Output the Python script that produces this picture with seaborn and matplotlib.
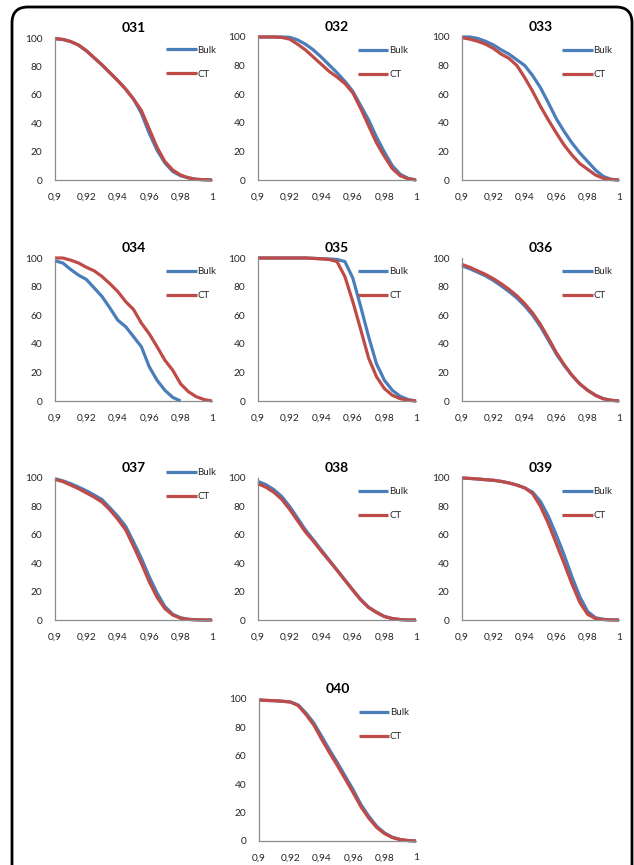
import numpy as np
import pandas as pd
import matplotlib
matplotlib.use("Agg")
import matplotlib.pyplot as plt
from matplotlib.patches import FancyBboxPatch
from matplotlib.transforms import IdentityTransform
import seaborn as sns

# ---------------- data ----------------
X = [0.900, 0.905, 0.910, 0.915, 0.920, 0.925, 0.930, 0.935, 0.940, 0.945, 0.950,
     0.955, 0.960, 0.965, 0.970, 0.975, 0.980, 0.985, 0.990, 0.995, 1.000]
XTICKS = [0.90, 0.92, 0.94, 0.96, 0.98, 1.00]
XTICK_LABELS = ["0,9", "0,92", "0,94", "0,96", "0,98", "1"]
YTICKS = [0, 20, 40, 60, 80, 100]
SERIES = ["Bulk", "CT"]
PANELS = ["031", "032", "033", "034", "035", "036", "037", "038", "039", "040"]

B031 = [99.5, 99, 97.5, 95, 91, 86, 81, 75.5, 70, 64, 57, 47, 33, 21, 12, 6, 3, 1.5, 0.5, 0.2, 0]
C031 = [99.5, 99, 97.5, 95, 91, 86, 81, 75.5, 70, 64, 57, 49, 36, 23, 13, 7, 3.5, 1.5, 0.5, 0.2, 0]
B032 = [100, 100, 100, 100, 99.8, 98, 95, 91, 86, 80.5, 75, 69, 62, 52, 42, 30, 19.5, 10, 4, 1.2, 0]
C032 = [100, 100, 100, 99.7, 98.5, 95, 91, 86, 81, 76, 72, 67.5, 61, 50, 38, 26, 16.5, 8, 3, 0.8, 0]
B033 = [100, 100, 99, 97, 94.5, 91, 88, 84, 80, 73, 64.5, 54, 43, 34, 26, 19, 13, 7, 2.5, 0.5, 0]
C033 = [99.5, 98.5, 97, 95, 92, 88, 85, 80, 71.5, 62, 51.5, 42, 33, 24.5, 17.5, 11.5, 7.5, 3.5, 1.2, 0.3, 0]
B034 = [98, 96.5, 92, 88, 85, 79, 73, 65, 56.5, 52, 45, 38, 24, 14.5, 7.5, 2.5, 0,
        np.nan, np.nan, np.nan, np.nan]
C034 = [100, 100, 98.5, 96.5, 93.5, 91, 87, 82, 76.5, 69.5, 64, 54.5, 47, 38, 28.5, 21.5, 12, 6.5, 3, 1, 0]
B035 = [100, 100, 100, 100, 100, 100, 100, 99.8, 99.5, 99.3, 99, 97.5, 86, 66, 45, 26, 14.5, 7.5, 3.3, 1, 0]
C035 = [100, 100, 100, 100, 100, 100, 100, 99.7, 99.4, 99, 97.5, 87, 69.5, 50, 30, 17, 8.7, 4, 1.6, 0.5, 0]
B036 = [94.5, 92.5, 90, 87.5, 84.3, 80.5, 76.5, 72, 66.5, 60, 52, 42.6, 33, 25, 18, 12, 7.5, 4, 1.6, 0.5, 0]
C036 = [95.5, 93.5, 91, 88.5, 85.5, 82, 78, 73.5, 68, 61.5, 53.5, 44, 34, 25.5, 18, 12, 7.5, 4, 1.6, 0.5, 0]
B037 = [99.5, 98, 96, 93.6, 91, 88, 84.7, 79, 73, 66, 55, 43.5, 30.5, 19, 9.5, 4, 1.6, 0.5, 0.2, 0, 0]
C037 = [99, 97.5, 95, 92.5, 89.5, 86.5, 83, 77.5, 71, 63.5, 52, 40, 27, 16, 8, 3.5, 1.2, 0.4, 0.1, 0, 0]
B038 = [97.6, 95.3, 91.8, 87, 80, 71.8, 63.5, 56.5, 49.4, 42.3, 35.3, 28.2, 21.2, 14.5, 9, 5.5, 2.5, 1, 0.3, 0, 0]
C038 = [96, 93.5, 90, 85, 78, 70, 62, 55.5, 48.5, 41.8, 35, 28, 21, 14.2, 8.8, 5.3, 2.4, 1, 0.3, 0, 0]
B039 = [100, 99.7, 99.3, 98.8, 98.4, 97.6, 96.5, 95, 93, 90, 83.5, 73, 60, 46, 30.5, 16.5, 6, 1.6, 0.5, 0.1, 0]
C039 = [100, 99.7, 99.3, 98.8, 98.4, 97.6, 96.5, 95, 93, 89, 80, 68, 54, 40, 25.5, 12.5, 4, 1, 0.3, 0, 0]
B040 = [99.3, 99, 98.8, 98.4, 97.9, 95.8, 90, 83, 73.5, 64, 55, 45.5, 36, 25.5, 17.3, 10.3, 5.6, 2.6, 1, 0.3, 0]
C040 = [99.3, 99, 98.8, 98.4, 97.9, 95.3, 89, 81.5, 71.5, 62, 53, 43.5, 34, 24, 16, 9.5, 5.2, 2.4, 1, 0.3, 0]

DATA = {
    "031": (B031, C031), "032": (B032, C032), "033": (B033, C033),
    "034": (B034, C034), "035": (B035, C035), "036": (B036, C036),
    "037": (B037, C037), "038": (B038, C038), "039": (B039, C039),
    "040": (B040, C040),
}

# ---------------- layout (pixels) ----------------
W, H = 634, 865
BLUE = "#4A7EBB"
RED = "#BE4B48"
AXIS_GRAY = "#8C8C8C"
TEXT = "#262626"

# panel: (left px, right px, top px(100), bottom px(0), legend x frac, legend y frac)
LAYOUT = {
    "031": (55, 212, 38, 180, 0.71, 0.945),
    "032": (258, 416, 37, 180, 0.635, 0.935),
    "033": (462, 619, 37, 180, 0.64, 0.935),
    "034": (55, 212, 258, 401, 0.71, 0.935),
    "035": (258, 416, 258, 401, 0.635, 0.935),
    "036": (462, 619, 258, 401, 0.64, 0.935),
    "037": (55, 212, 478, 620, 0.71, 1.07),
    "038": (258, 416, 478, 620, 0.635, 0.935),
    "039": (462, 619, 478, 620, 0.64, 0.935),
    "040": (259, 416, 699, 841, 0.635, 0.935),
}

sns.set_style("white")
plt.rcParams["font.family"] = ["Lato", "DejaVu Sans"]

fig = plt.figure(figsize=(W / 100, H / 100), dpi=100)
fig.patch.set_facecolor("white")

for name in PANELS:
    l, r, t, b, lx, ly = LAYOUT[name]
    ax = fig.add_axes([l / W, 1 - b / H, (r - l) / W, (b - t) / H])
    bulk, ct = DATA[name]
    df = pd.DataFrame({
        "x": X * 2,
        "y": list(bulk) + list(ct),
        "series": [SERIES[0]] * len(X) + [SERIES[1]] * len(X),
    }).dropna()
    sns.lineplot(data=df, x="x", y="y", hue="series", hue_order=SERIES,
                 palette={"Bulk": BLUE, "CT": RED}, linewidth=2.3,
                 estimator=None, sort=False, ax=ax)
    for ln in ax.lines:
        ln.set_clip_on(False)
        ln.set_solid_capstyle("butt")
        ln.set_solid_joinstyle("round")
    ax.set_xlim(0.9, 1.0)
    ax.set_ylim(0, 100)
    ax.set_xticks(XTICKS)
    ax.set_xticklabels(XTICK_LABELS)
    ax.set_yticks(YTICKS)
    ax.set_xlabel("")
    ax.set_ylabel("")
    for s in ["top", "right"]:
        ax.spines[s].set_visible(False)
    for s in ["left", "bottom"]:
        ax.spines[s].set_color(AXIS_GRAY)
        ax.spines[s].set_linewidth(0.9)
    ax.tick_params(axis="both", which="major", direction="out", length=3,
                   width=0.9, color=AXIS_GRAY, labelsize=7.3, labelcolor=TEXT)
    ax.tick_params(axis="x", pad=6)
    ax.tick_params(axis="y", pad=6)
    ax.set_title(name, fontsize=10, fontweight="bold", color="black", pad=4)
    handles, labels = ax.get_legend_handles_labels()
    ax.legend(handles, labels, loc="upper left", bbox_to_anchor=(lx, ly),
              frameon=False, fontsize=7, handlelength=3.1, handletextpad=0.1,
              labelspacing=1.55, borderpad=0, borderaxespad=0)

border = FancyBboxPatch((12, -40), 620, 898,
                        boxstyle="round,pad=0,rounding_size=16",
                        linewidth=2.0, edgecolor="black", facecolor="none",
                        transform=IdentityTransform())
fig.patches.append(border)

fig.savefig("out.png", dpi=100)
